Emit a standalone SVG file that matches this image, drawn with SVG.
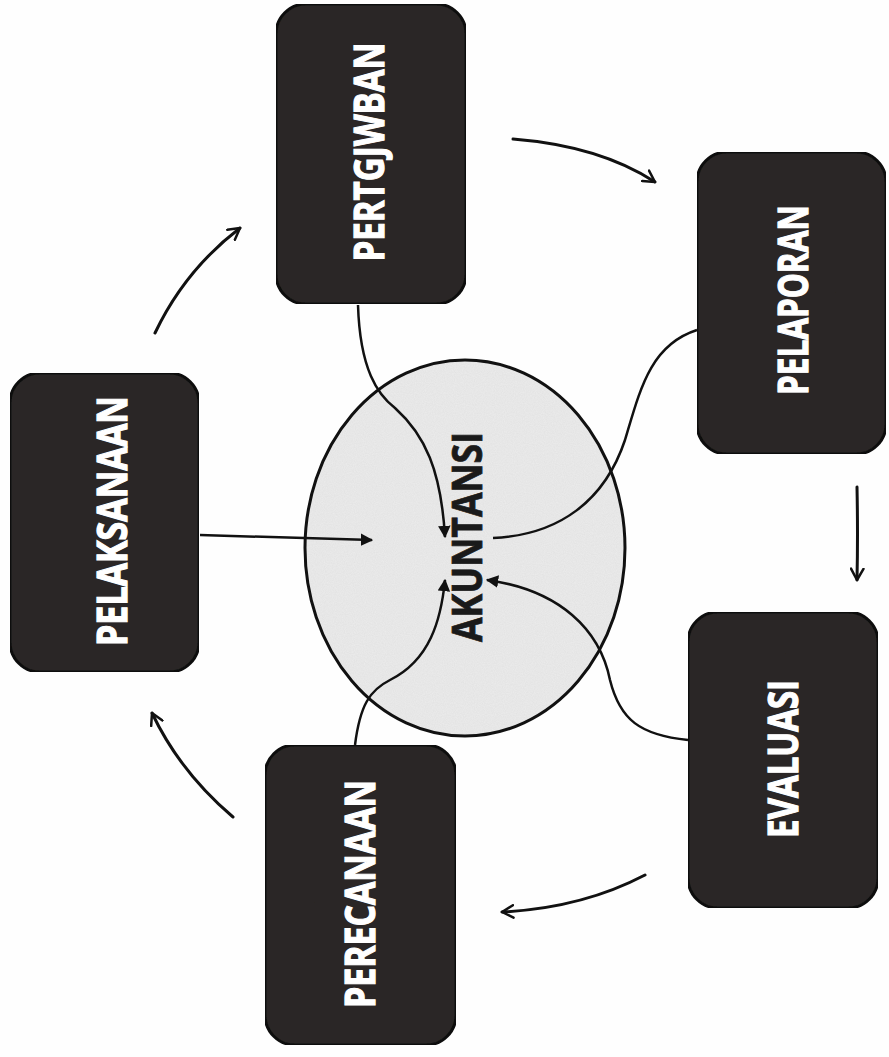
<svg xmlns="http://www.w3.org/2000/svg" width="889" height="1057" viewBox="0 0 889 1057">
<style>
.box{fill:#2b2826;stroke:#111;stroke-width:3}
.lbl{font-family:"Open Sans","Liberation Sans",sans-serif;font-weight:700;font-size:42px;fill:#fff;stroke:#fff;stroke-width:1.2;text-anchor:middle}
.ctr{font-family:"Open Sans","Liberation Sans",sans-serif;font-weight:700;font-size:42px;fill:#1a1a1a;stroke:#1a1a1a;stroke-width:0.8;text-anchor:middle}
.in{fill:none;stroke:#111;stroke-width:2.5}
.out{fill:none;stroke:#111;stroke-width:3;stroke-linecap:round}
</style>
<defs>
<marker id="tri" viewBox="0 0 10 10" refX="9" refY="5" markerWidth="5" markerHeight="5" orient="auto" markerUnits="strokeWidth">
<path d="M0,0 L10,5 L0,10 Z" fill="#111"/>
</marker>
<marker id="chev" viewBox="0 0 12 12" refX="10" refY="6" markerWidth="5" markerHeight="5" orient="auto" markerUnits="strokeWidth">
<path d="M1,1 L10,6 L1,11" fill="none" stroke="#111" stroke-width="2" stroke-linecap="round" stroke-linejoin="round"/>
</marker>
<filter id="grain" x="0" y="0" width="100%" height="100%">
<feTurbulence type="fractalNoise" baseFrequency="0.9" numOctaves="2" seed="3" result="n"/>
<feColorMatrix in="n" type="matrix" values="0 0 0 0 0  0 0 0 0 0  0 0 0 0 0  0 0 0 0.1 0" result="a"/>
<feComposite in="a" in2="SourceGraphic" operator="atop"/>
</filter>
</defs>
<rect width="889" height="1057" fill="#fefefe"/>

<g id="akuntansi">
<ellipse cx="465" cy="548" rx="160" ry="188" fill="#ececec" filter="url(#grain)"/>
<ellipse cx="465" cy="548" rx="160" ry="188" fill="none" stroke="#111" stroke-width="3"/>
<text class="ctr" transform="translate(467,537) rotate(-90)" x="0" y="15" textLength="210" lengthAdjust="spacingAndGlyphs">AKUNTANSI</text>
</g>

<g id="connectors">
<path class="in" d="M200,535 L372,540" marker-end="url(#tri)"/>
<path class="in" d="M358,305 C360,370 378,395 395,408 C425,435 441,470 445,537" marker-end="url(#tri)"/>
<path class="in" d="M697,330 C650,345 640,390 625,440 C605,500 560,535 493,538"/>
<path class="in" d="M688,740 C640,735 620,720 610,680 C600,630 560,590 487,580" marker-end="url(#tri)"/>
<path class="in" d="M355,745 C360,705 370,690 390,680 C430,660 441,620 445,580" marker-end="url(#tri)"/>
<path class="out" d="M155,333 Q185,270 240,228" marker-end="url(#chev)"/>
<path class="out" d="M513,139 Q600,146 655,182" marker-end="url(#chev)"/>
<path class="out" d="M857,487 Q858,535 857,580" marker-end="url(#chev)"/>
<path class="out" d="M645,875 Q582,908 502,912" marker-end="url(#chev)"/>
<path class="out" d="M233,817 Q180,772 152,713" marker-end="url(#chev)"/>
</g>

<g id="pertgjwban">
<rect class="box" x="276" y="4" width="190" height="300" rx="30" filter="url(#grain)"/>
<text class="lbl" transform="translate(369,152) rotate(-90)" x="0" y="15" textLength="219" lengthAdjust="spacingAndGlyphs">PERTGJWBAN</text>
</g>

<g id="pelaporan">
<rect class="box" x="697" y="152" width="189" height="302" rx="30" filter="url(#grain)"/>
<text class="lbl" transform="translate(793,300) rotate(-90)" x="0" y="15" textLength="190" lengthAdjust="spacingAndGlyphs">PELAPORAN</text>
</g>

<g id="pelaksanaan">
<rect class="box" x="10" y="373" width="189" height="299" rx="30" filter="url(#grain)"/>
<text class="lbl" transform="translate(112,521) rotate(-90)" x="0" y="15" textLength="250" lengthAdjust="spacingAndGlyphs">PELAKSANAAN</text>
</g>

<g id="evaluasi">
<rect class="box" x="688" y="612" width="190" height="296" rx="30" filter="url(#grain)"/>
<text class="lbl" transform="translate(783,759) rotate(-90)" x="0" y="15" textLength="158" lengthAdjust="spacingAndGlyphs">EVALUASI</text>
</g>

<g id="perecanaan">
<rect class="box" x="265" y="745" width="191" height="300" rx="30" filter="url(#grain)"/>
<text class="lbl" transform="translate(360,894) rotate(-90)" x="0" y="15" textLength="228" lengthAdjust="spacingAndGlyphs">PERECANAAN</text>
</g>
</svg>
